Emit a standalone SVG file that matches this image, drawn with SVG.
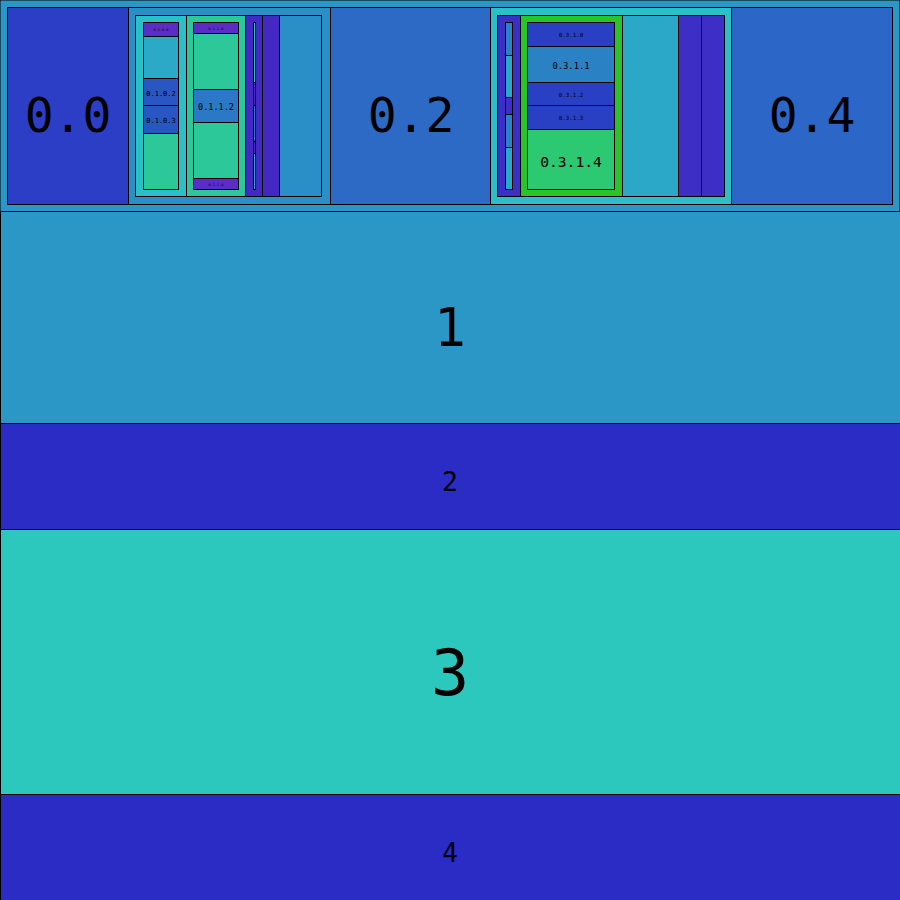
<svg xmlns="http://www.w3.org/2000/svg" width="900" height="900" viewBox="0 0 900 900">
<style>
rect{stroke:#000;stroke-width:1}
text{font-family:"DejaVu Sans Mono","Liberation Mono",monospace;fill:#000;text-anchor:middle}
.lb{fill:#2b97c6}.in{fill:#2b2bc6}.cy{fill:#2cc8bd}
.b00{fill:#2c3ec5}.b01{fill:#2a8fc6}.b02{fill:#2c6ac6}.b03{fill:#2cbfc8}.b04{fill:#2c66c6}
.cyan{fill:#2cbfc8}.grn{fill:#2cc89a}.pur{fill:#4428c4}.vio{fill:#5a2ec6}.sky{fill:#2da9c8}.mid{fill:#2a56c4}.blu{fill:#2b79c6}
.p3{fill:#3d2ec6}.g3{fill:#29c42a}.s3{fill:#2ba8c8}.d3{fill:#2a40c4}.m3{fill:#2a82c4}.e3{fill:#2cc872}
</style>
<g id="n0"><rect class="lb" x="0" y="0" width="900" height="211.5"/></g>
<g id="n0.0"><rect class="b00" x="7.5" y="7.5" width="121" height="197"/><text x="68" y="132" font-size="48">0.0</text></g>
<g id="n0.1"><rect class="b01" x="128.5" y="7.5" width="202" height="197"/>
<g id="n0.1.0"><rect class="cyan" x="135.5" y="15.5" width="51" height="181"/>
<g id="n0.1.0.0"><rect class="vio" x="143.5" y="22.5" width="35" height="14"/><text x="161" y="30.5" font-size="3.5">0.1.0.0</text></g>
<g id="n0.1.0.1"><rect class="sky" x="143.5" y="36.5" width="35" height="42"/></g>
<g id="n0.1.0.2"><rect class="mid" x="143.5" y="78.5" width="35" height="27"/><text x="161" y="96" font-size="7">0.1.0.2</text></g>
<g id="n0.1.0.3"><rect class="mid" x="143.5" y="105.5" width="35" height="28"/><text x="161" y="123" font-size="7">0.1.0.3</text></g>
<g id="n0.1.0.4"><rect class="grn" x="143.5" y="133.5" width="35" height="56"/></g>
</g>
<g id="n0.1.1"><rect class="grn" x="186.5" y="15.5" width="59" height="181"/>
<g id="n0.1.1.0"><rect class="vio" x="193.5" y="22.5" width="45" height="11"/><text x="216" y="29.5" font-size="3.5">0.1.1.0</text></g>
<g id="n0.1.1.1"><rect class="grn" x="193.5" y="33.5" width="45" height="56"/></g>
<g id="n0.1.1.2"><rect class="blu" x="193.5" y="89.5" width="45" height="33"/><text x="216" y="110" font-size="8.5">0.1.1.2</text></g>
<g id="n0.1.1.3"><rect class="grn" x="193.5" y="122.5" width="45" height="56"/></g>
<g id="n0.1.1.4"><rect class="vio" x="193.5" y="178.5" width="45" height="11"/><text x="216" y="185.5" font-size="3.5">0.1.1.4</text></g>
</g>
<g id="n0.1.2"><rect class="pur" x="245.5" y="15.5" width="17" height="181"/>
<rect class="grn" x="253.5" y="22.5" width="2" height="60"/>
<rect class="pur" x="253.5" y="82.5" width="2" height="23"/>
<rect class="blu" x="253.5" y="105.5" width="2" height="36"/>
<rect class="pur" x="253.5" y="141.5" width="2" height="12"/>
<rect class="sky" x="253.5" y="153.5" width="2" height="36"/>
</g>
<g id="n0.1.3"><rect class="pur" x="262.5" y="15.5" width="17" height="181"/></g>
<g id="n0.1.4"><rect class="b01" x="279.5" y="15.5" width="42" height="181"/></g>
</g>
<g id="n0.2"><rect class="b02" x="330.5" y="7.5" width="160" height="197"/><text x="411" y="132" font-size="48">0.2</text></g>
<g id="n0.3"><rect class="b03" x="490.5" y="7.5" width="241" height="197"/>
<g id="n0.3.0"><rect class="p3" x="497.5" y="15.5" width="23" height="181"/>
<rect class="m3" x="505.5" y="22.5" width="7" height="33"/>
<rect class="s3" x="505.5" y="55.5" width="7" height="42"/>
<rect class="p3" x="505.5" y="97.5" width="7" height="17"/>
<rect class="m3" x="505.5" y="114.5" width="7" height="33"/>
<rect class="s3" x="505.5" y="147.5" width="7" height="42"/>
</g>
<g id="n0.3.1"><rect class="g3" x="520.5" y="15.5" width="102" height="181"/>
<g id="n0.3.1.0"><rect class="d3" x="527.5" y="22.5" width="87" height="24"/><text x="571" y="37" font-size="5.8">0.3.1.0</text></g>
<g id="n0.3.1.1"><rect class="m3" x="527.5" y="46.5" width="87" height="36"/><text x="571" y="69" font-size="8.8">0.3.1.1</text></g>
<g id="n0.3.1.2"><rect class="d3" x="527.5" y="82.5" width="87" height="23"/><text x="571" y="96.7" font-size="5.8">0.3.1.2</text></g>
<g id="n0.3.1.3"><rect class="d3" x="527.5" y="105.5" width="87" height="24"/><text x="571" y="120" font-size="5.8">0.3.1.3</text></g>
<g id="n0.3.1.4"><rect class="e3" x="527.5" y="129.5" width="87" height="60"/><text x="571" y="167" font-size="14.6">0.3.1.4</text></g>
</g>
<g id="n0.3.2"><rect class="s3" x="622.5" y="15.5" width="56" height="181"/></g>
<g id="n0.3.3"><rect class="p3" x="678.5" y="15.5" width="23" height="181"/></g>
<g id="n0.3.4"><rect class="p3" x="701.5" y="15.5" width="23" height="181"/></g>
</g>
<g id="n0.4"><rect class="b04" x="731.5" y="7.5" width="161" height="197"/><text x="812" y="132" font-size="48">0.4</text></g>
<g id="n1"><rect class="lb" x="0.5" y="211.5" width="900" height="212"/><text x="450" y="346" font-size="53">1</text></g>
<g id="n2"><rect class="in" x="0.5" y="423.5" width="900" height="106"/><text x="450" y="491" font-size="26.5">2</text></g>
<g id="n3"><rect class="cy" x="0.5" y="529.5" width="900" height="265"/><text x="450" y="695" font-size="63.5">3</text></g>
<g id="n4"><rect class="in" x="0.5" y="794.5" width="900" height="106"/><text x="450" y="862" font-size="26">4</text></g>
<g id="connectors"/>
</svg>
